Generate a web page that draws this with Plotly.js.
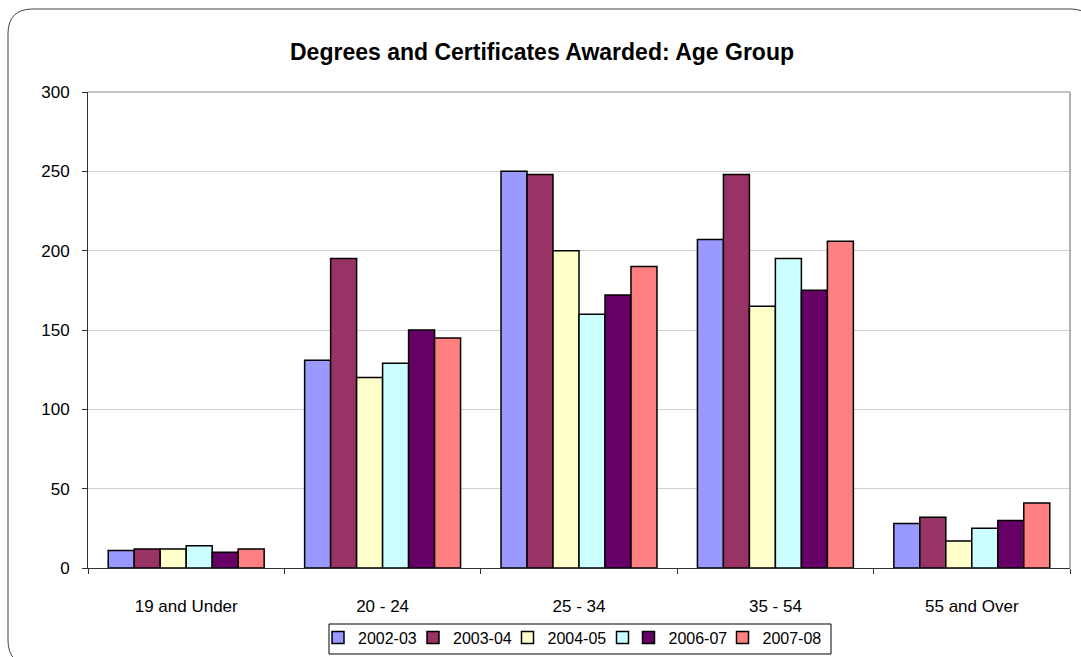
<!DOCTYPE html>
<html>
<head>
<meta charset="utf-8">
<script src="https://cdn.plot.ly/plotly-3.0.1.min.js"></script>
<style>html,body{margin:0;padding:0;background:#fff;}#chart{width:1081px;height:657px;}</style>
</head>
<body>
<div id="chart"></div>
<script>
const categories = ['19 and Under', '20 - 24', '25 - 34', '35 - 54', '55 and Over'];
const seriesNames = ['2002-03', '2003-04', '2004-05', ' ', '2006-07', '2007-08'];
const s2002_03 = [11, 131, 250, 207, 28];
const s2003_04 = [12, 195, 248, 248, 32];
const s2004_05 = [12, 120, 200, 165, 17];
const s2005_06 = [14, 129, 160, 195, 25];
const s2006_07 = [10, 150, 172, 175, 30];
const s2007_08 = [12, 145, 190, 206, 41];
const yTicks = [0, 50, 100, 150, 200, 250, 300];

const seriesValues = [s2002_03, s2003_04, s2004_05, s2005_06, s2006_07, s2007_08];
const colors = ['#9999FF', '#993366', '#FFFFCC', '#CCFFFF', '#660066', '#FF8080'];
const legendIds = ['legend', 'legend2', 'legend3', 'legend4', 'legend5', 'legend6'];
const legendSymbolX = [337.5, 432.5, 527, 622, 648, 742]; // px centre of each legend key

const traces = seriesValues.map((vals, i) => ({
  type: 'bar',
  x: categories,
  y: vals,
  name: seriesNames[i],
  legend: legendIds[i],
  marker: {color: colors[i], line: {color: '#000000', width: 1.5}},
  hoverinfo: 'x+y+name'
}));

// plot area in pixels
const L = 88, R = 1070, T = 92, B = 568;
const W = R - L, H = B - T;
const px = x => (x - L) / W;
const py = y => (B - y) / H;
function framePath() {
  const x0 = 8, y0 = 9, x1 = 1095, y1 = 665, r = 25;
  const P = (x, y) => px(x).toFixed(5) + ',' + py(y).toFixed(5);
  return 'M ' + P(x0 + r, y0) + ' L ' + P(x1 - r, y0) + ' Q ' + P(x1, y0) + ' ' + P(x1, y0 + r) +
    ' L ' + P(x1, y1 - r) + ' Q ' + P(x1, y1) + ' ' + P(x1 - r, y1) +
    ' L ' + P(x0 + r, y1) + ' Q ' + P(x0, y1) + ' ' + P(x0, y1 - r) +
    ' L ' + P(x0, y0 + r) + ' Q ' + P(x0, y0) + ' ' + P(x0 + r, y0) + ' Z';
}

const font = 'Liberation Sans, Arial, sans-serif';
const legendFont = {family: font, size: 16, color: '#000000'};

const layout = {
  width: 1081, height: 657,
  margin: {l: L, r: 1081 - R, t: T, b: 657 - B, pad: 0, autoexpand: false},
  paper_bgcolor: '#ffffff', plot_bgcolor: '#ffffff',
  font: {family: font, size: 12, color: '#000000'},
  title: {
    text: '<b>Degrees and Certificates Awarded: Age Group</b>',
    font: {family: font, size: 23, color: '#000000'},
    xref: 'paper', x: px(542), xanchor: 'center',
    yref: 'container', y: 1 - 52 / 657, yanchor: 'middle'
  },
  barmode: 'group', bargap: 0.206, bargroupgap: 0,
  showlegend: true,
  xaxis: {
    type: 'category', tickson: 'boundaries', ticks: 'outside', ticklen: 5, tickcolor: '#333333',
    showline: true, linecolor: '#333333', linewidth: 1, showgrid: false, zeroline: false,
    tickfont: {family: font, size: 17, color: '#000000'}, ticklabelstandoff: 23
  },
  yaxis: {
    range: [0, 300], tickvals: yTicks, ticktext: yTicks.map(String), ticks: 'outside', ticklen: 5,
    tickcolor: '#333333', showline: true, linecolor: '#333333', linewidth: 1,
    showgrid: true, gridcolor: '#d0d0d0', gridwidth: 1, zeroline: false,
    tickfont: {family: font, size: 17, color: '#000000'}, ticklabelstandoff: 9
  },
  shapes: [
    {type: 'line', xref: 'paper', yref: 'paper', x0: 0, x1: 1, y0: 1, y1: 1, line: {color: '#888888', width: 1}},
    {type: 'line', xref: 'paper', yref: 'paper', x0: 1, x1: 1, y0: 0, y1: 1, line: {color: '#999999', width: 1.5}},
    {type: 'rect', xref: 'paper', yref: 'paper', x0: px(329), x1: px(831), y0: py(624), y1: py(654),
      line: {color: '#000000', width: 1}, fillcolor: 'rgba(0,0,0,0)'},
    {type: 'path', xref: 'paper', yref: 'paper', path: framePath(), line: {color: '#444444', width: 1}, layer: 'below'}
  ]
};
legendIds.forEach((id, i) => {
  layout[id] = {
    orientation: 'h', x: px(legendSymbolX[i] - 19.5), xanchor: 'left', y: py(620.5), yanchor: 'top',
    borderwidth: 0, bgcolor: 'rgba(0,0,0,0)', font: legendFont, itemwidth: 30
  };
});

Plotly.newPlot('chart', traces, layout, {displayModeBar: false, staticPlot: true});
</script>
</body>
</html>
